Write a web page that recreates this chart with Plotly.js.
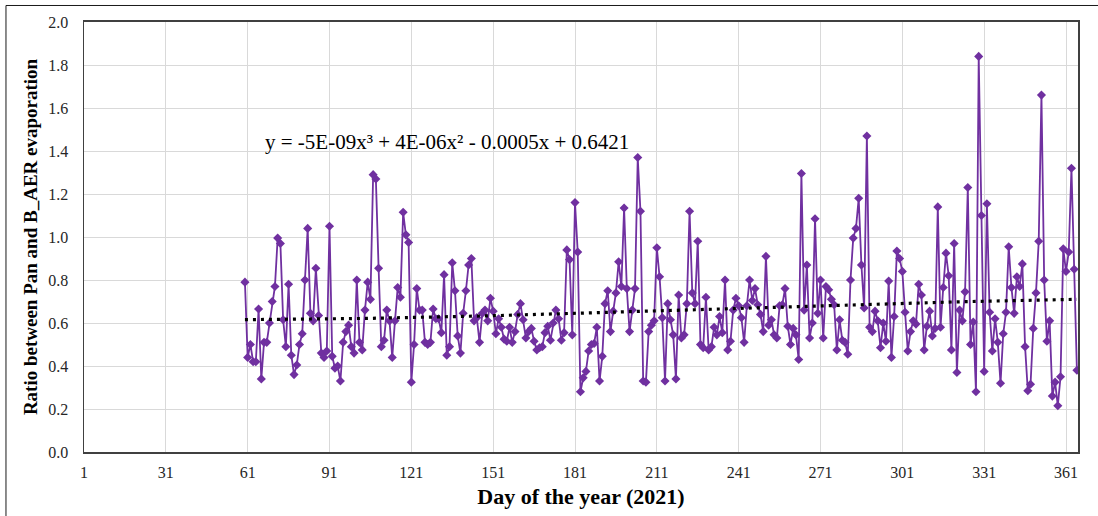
<!DOCTYPE html>
<html>
<head>
<meta charset="utf-8">
<script src="https://cdn.plot.ly/plotly-3.0.1.min.js"></script>
<style>html,body{margin:0;padding:0;background:#fff;}#chart{width:1098px;height:516px;}</style>
</head>
<body>
<div id="chart"></div>
<script>
// Ratio between Pan and B_AER evaporation, daily from day 60 (1 March 2021)
const firstDay = 60;
const ratioPart1 = [0.79,0.44,0.50,0.42,0.42,0.665,0.34,0.51,0.51,0.60,0.70,0.77,0.995,0.97,0.615,0.49,0.78,0.45,0.36,0.405,0.50,0.55,0.80,1.04,0.645,0.61,0.855,0.635,0.46,0.44,0.47,1.05,0.445,0.39,0.40,0.33];
const ratioPart2 = [0.51,0.56,0.59,0.49,0.46,0.80,0.51,0.475,0.66,0.79,0.71,1.29,1.27,0.855,0.49,0.52,0.66,0.61,0.44,0.61,0.765,0.72,1.115,1.01,0.975,0.325,0.50,0.76,0.66,0.66,0.51,0.50,0.51,0.665,0.62,0.62,0.555,0.825,0.45,0.49];
const ratioPart3 = [0.88,0.75,0.54,0.46,0.645,0.75,0.87,0.90,0.61,0.625,0.51,0.645,0.66,0.61,0.715,0.655,0.55,0.62,0.58,0.525,0.515,0.58,0.51,0.56,0.64,0.69,0.615,0.53,0.56,0.575,0.515,0.475,0.485,0.49,0.555,0.585,0.52,0.60,0.66];
const ratioPart4 = [0.62,0.52,0.555,0.94,0.895,0.545,1.16,0.93,0.28,0.345,0.375,0.47,0.50,0.505,0.58,0.33,0.445,0.69,0.75,0.56,0.655,0.74,0.885,0.77,1.135,0.76,0.56,0.66,0.76,1.37,1.12,0.33,0.325,0.56,0.59,0.61,0.95,0.815];
const ratioPart5 = [0.625,0.33,0.69,0.615,0.545,0.34,0.73,0.53,0.545,0.69,1.12,0.74,0.69,0.98,0.50,0.485,0.72,0.475,0.49,0.58,0.545,0.63,0.555,0.80,0.475,0.515,0.66,0.715,0.68,0.625,0.51,0.68,0.80,0.705,0.76,0.685,0.64,0.56,0.91,0.59];
const ratioPart6 = [0.615,0.545,0.53,0.68,0.685,0.76,0.585,0.50,0.575,0.545,0.43,1.295,0.66,0.87,0.53,0.60,1.085,0.645,0.80,0.53,0.77,0.755,0.71,0.685,0.475,0.615,0.52,0.51,0.455,0.80,0.995,1.04,1.18,0.87,0.67,1.47,0.58];
const ratioPart7 = [0.56,0.655,0.61,0.485,0.60,0.515,0.795,0.44,0.63,0.935,0.90,0.84,0.65,0.47,0.56,0.61,0.595,0.78,0.73,0.475,0.585,0.655,0.54,0.575,1.14,0.58,0.765,0.925,0.82,0.475,0.97,0.37,0.66,0.61,0.745,1.23,0.50,0.605,0.28];
const ratioPart8 = [1.84,1.10,0.375,1.155,0.65,0.47,0.62,0.51,0.32,0.55,0.65,0.955,0.765,0.645,0.815,0.77,0.875,0.49,0.285,0.315,0.575,0.74,0.98,1.66,0.80,0.515,0.61,0.26,0.325,0.215,0.35,0.945,0.84,0.93,1.32,0.85,0.38];
const xTickVals = [1,31,61,91,121,151,181,211,241,271,301,331,361];
const yTickVals = [0,0.2,0.4,0.6,0.8,1.0,1.2,1.4,1.6,1.8,2.0];
const equationText = 'y = -5E-09x³ + 4E-06x² - 0.0005x + 0.6421';
const xTitle = 'Day of the year (2021)';
const yTitle = 'Ratio between Pan and B_AER evaporation';

const ratio = [].concat(ratioPart1, ratioPart2, ratioPart3, ratioPart4, ratioPart5, ratioPart6, ratioPart7, ratioPart8);
const days = ratio.map((_, i) => firstDay + i);

// Cubic least-squares trendline (as in the spreadsheet's polynomial trendline)
function cubicFit(xs, ys) {
  const c = 212, s = 100;
  const n = 4;
  const A = Array.from({length:n}, () => new Array(n).fill(0));
  const b = new Array(n).fill(0);
  xs.forEach((x, k) => {
    const t = (x - c) / s;
    const p = [1, t, t*t, t*t*t];
    for (let i = 0; i < n; i++) {
      b[i] += p[i] * ys[k];
      for (let j = 0; j < n; j++) A[i][j] += p[i] * p[j];
    }
  });
  for (let i = 0; i < n; i++) {
    let m = i;
    for (let r = i+1; r < n; r++) if (Math.abs(A[r][i]) > Math.abs(A[m][i])) m = r;
    [A[i], A[m]] = [A[m], A[i]]; [b[i], b[m]] = [b[m], b[i]];
    for (let r = i+1; r < n; r++) {
      const f = A[r][i] / A[i][i];
      for (let j = i; j < n; j++) A[r][j] -= f * A[i][j];
      b[r] -= f * b[i];
    }
  }
  const coef = new Array(n).fill(0);
  for (let i = n-1; i >= 0; i--) {
    let sum = b[i];
    for (let j = i+1; j < n; j++) sum -= A[i][j] * coef[j];
    coef[i] = sum / A[i][i];
  }
  return x => { const t = (x - c) / s; return coef[0] + coef[1]*t + coef[2]*t*t + coef[3]*t*t*t; };
}
const trend = cubicFit(days, ratio);
const trendY = days.map(trend);

const serif = 'Times New Roman, Liberation Serif, Times, serif';

const traces = [
  {
    x: days, y: ratio, type: 'scatter', mode: 'lines+markers',
    line: {color: '#7030A0', width: 1.8},
    marker: {symbol: 'diamond', size: 7, color: '#7030A0'},
    hoverinfo: 'x+y', showlegend: false
  },
  {
    x: days, y: trendY, type: 'scatter', mode: 'lines',
    line: {color: '#000000', width: 3.2, dash: '3px,5px'},
    hoverinfo: 'skip', showlegend: false
  }
];

const layout = {
  width: 1098, height: 516,
  margin: {l: 84, r: 20, t: 22, b: 64, pad: 0},
  paper_bgcolor: '#ffffff', plot_bgcolor: '#ffffff',
  showlegend: false,
  font: {family: serif, color: '#262626', size: 16},
  xaxis: {
    range: [1, 365.4], tickmode: 'array', tickvals: xTickVals,
    ticktext: xTickVals.map(String),
    showgrid: true, gridcolor: '#d9d9d9', gridwidth: 1,
    zeroline: false, showline: true, linecolor: '#404040', linewidth: 2, mirror: true,
    ticks: '', ticklabelstandoff: 5,
    tickfont: {family: serif, size: 16, color: '#262626'},
    title: {text: xTitle, font: {family: serif, size: 22, color: '#000', weight: 'bold'}, standoff: 8}
  },
  yaxis: {
    range: [0, 2.0], tickmode: 'array', tickvals: yTickVals,
    ticktext: yTickVals.map(v => v.toFixed(1)),
    showgrid: true, gridcolor: '#d9d9d9', gridwidth: 1,
    zeroline: false, showline: true, linecolor: '#404040', linewidth: 1.5, mirror: true,
    ticks: '', ticklabelstandoff: 11,
    tickfont: {family: serif, size: 16, color: '#262626'},
    title: {text: yTitle, font: {family: serif, size: 19, color: '#000', weight: 'bold'}, standoff: 5}
  },
  annotations: [{
    text: equationText, xref: 'x', yref: 'y', x: 66.6, y: 1.44,
    xanchor: 'left', yanchor: 'middle', showarrow: false,
    font: {family: serif, size: 21, color: '#000'}
  }],
  shapes: [{
    type: 'rect', xref: 'paper', yref: 'paper',
    x0: -0.0785, x1: 1.2, y0: -0.3, y1: 1.0384,
    line: {color: '#1a1a1a', width: 1}, fillcolor: 'rgba(0,0,0,0)', layer: 'below'
  }]
};

Plotly.newPlot('chart', traces, layout, {displayModeBar: false, staticPlot: true});
</script>
</body>
</html>
